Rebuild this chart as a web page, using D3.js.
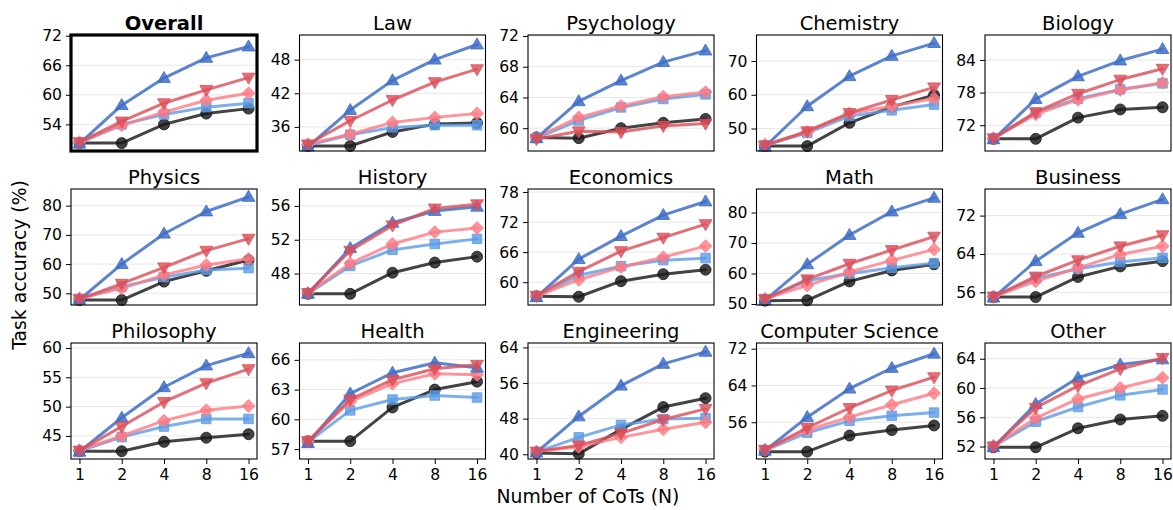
<!DOCTYPE html>
<html>
<head>
<meta charset="utf-8">
<script src="https://cdn.jsdelivr.net/npm/d3@7"></script>
<style>
  html, body { margin: 0; padding: 0; background: #fff; }
  svg { display: block; font-family: "DejaVu Sans", sans-serif; }
</style>
</head>
<body>
<svg id="chart" width="1173" height="510"></svg>
<script>
// Number of sampled chains of thought on the x axis
const nCots = [1, 2, 4, 8, 16];

const subjects = ["Overall", "Law", "Psychology", "Chemistry", "Biology",
  "Physics", "History", "Economics", "Math", "Business",
  "Philosophy", "Health", "Engineering", "Computer Science", "Other"];

// Task accuracy (%) per subject, one row per subject, one value per N
const blueValues = [
  [50.1, 57.9, 63.4, 67.5, 69.8], [32.5, 39.0, 44.3, 48.0, 50.7], [58.7, 63.5, 66.2, 68.6, 70.1],
  [44.6, 56.6, 65.5, 71.5, 75.3], [69.4, 76.8, 81.0, 83.9, 86.0], [47.8, 60.0, 70.4, 78.0, 83.0],
  [45.6, 51.0, 54.0, 55.4, 55.9], [57.0, 64.6, 69.2, 73.4, 76.1], [51.2, 63.0, 72.6, 80.3, 84.8],
  [54.9, 62.5, 68.4, 72.3, 75.4], [42.3, 48.1, 53.3, 57.0, 59.1], [57.6, 62.6, 64.7, 65.7, 65.2],
  [40.4, 48.5, 55.4, 60.3, 63.0], [49.8, 57.1, 63.3, 67.8, 70.9], [51.9, 57.8, 61.4, 63.2, 63.9]
];
const redValues = [
  [50.4, 54.6, 58.3, 61.0, 63.5], [32.9, 37.1, 40.8, 44.0, 46.3], [58.6, 59.6, 59.5, 60.3, 60.6],
  [45.0, 49.2, 54.6, 58.5, 62.2], [69.6, 74.4, 77.8, 80.4, 82.4], [48.0, 53.3, 58.9, 64.6, 68.7],
  [45.7, 50.7, 53.7, 55.7, 56.2], [57.3, 62.1, 66.2, 68.9, 71.6], [51.6, 58.1, 63.2, 67.7, 72.1],
  [55.1, 59.3, 62.7, 65.6, 67.9], [42.5, 46.6, 50.8, 54.0, 56.4], [57.8, 62.0, 64.0, 65.1, 65.5],
  [40.6, 42.0, 44.7, 47.8, 50.2], [50.0, 54.8, 59.1, 62.9, 65.8], [52.0, 57.3, 60.3, 62.6, 64.1]
];
const pinkValues = [
  [50.4, 53.8, 56.5, 58.9, 60.3], [32.9, 34.7, 36.8, 37.7, 38.4], [58.8, 61.4, 62.9, 64.1, 64.7],
  [45.2, 49.0, 54.5, 56.6, 58.9], [69.6, 74.0, 76.7, 78.5, 79.8], [48.3, 51.7, 56.3, 59.7, 61.8],
  [45.7, 49.2, 51.5, 52.9, 53.4], [57.2, 60.5, 63.0, 65.0, 67.2], [51.7, 56.1, 60.5, 64.3, 67.9],
  [55.1, 58.3, 61.1, 63.9, 65.6], [42.6, 45.0, 47.6, 49.4, 50.1], [57.8, 61.8, 63.6, 64.6, 64.5],
  [40.6, 41.7, 43.8, 45.6, 47.2], [50.0, 54.3, 57.1, 59.8, 62.3], [52.1, 55.9, 58.5, 60.0, 61.4]
];
const skyValues = [
  [50.2, 54.0, 56.0, 57.5, 58.3], [32.7, 34.6, 35.9, 36.3, 36.3], [58.7, 61.0, 62.7, 63.8, 64.4],
  [45.0, 48.7, 53.7, 55.4, 57.1], [69.5, 74.3, 76.9, 78.6, 79.7], [48.0, 52.3, 55.5, 58.0, 58.6],
  [45.6, 48.9, 50.8, 51.5, 52.1], [57.1, 61.4, 63.2, 64.4, 64.8], [51.5, 57.7, 59.9, 61.9, 63.4],
  [55.0, 58.9, 60.9, 62.3, 63.2], [42.4, 44.8, 46.6, 47.9, 47.9], [57.7, 60.9, 62.0, 62.4, 62.2],
  [40.5, 43.8, 46.6, 47.9, 48.1], [49.9, 53.7, 56.3, 57.4, 58.1], [52.0, 55.4, 57.4, 59.0, 59.8]
];
const blackValues = [
  [50.2, 50.2, 54.0, 56.2, 57.2], [32.6, 32.6, 35.1, 36.5, 36.7], [58.8, 58.7, 60.0, 60.7, 61.2],
  [44.8, 44.8, 51.7, 56.4, 59.9], [69.5, 69.5, 73.4, 74.9, 75.3], [47.7, 47.7, 54.0, 57.7, 61.4],
  [45.6, 45.6, 48.1, 49.3, 50.0], [57.2, 57.1, 60.2, 61.6, 62.5], [51.1, 51.2, 57.4, 61.0, 63.0],
  [55.0, 55.0, 59.2, 61.4, 62.5], [42.4, 42.4, 44.0, 44.7, 45.3], [57.8, 57.8, 61.2, 63.0, 63.8],
  [40.3, 40.1, 45.6, 50.6, 52.6], [49.6, 49.6, 53.1, 54.3, 55.3], [51.9, 51.9, 54.5, 55.7, 56.2]
];

// y-axis tick labels and limits per subject
const yTicks = [
  [54, 60, 66, 72], [36, 42, 48], [60, 64, 68, 72], [50, 60, 70], [72, 78, 84],
  [50, 60, 70, 80], [48, 52, 56], [60, 66, 72, 78], [50, 60, 70, 80], [56, 64, 72],
  [45, 50, 55, 60], [57, 60, 63, 66], [40, 48, 56, 64], [56, 64, 72], [52, 56, 60, 64]
];
const yLimits = [
  [48.6, 72.14], [31.7, 52.4], [57.03, 72.13], [43.35, 77.7], [67.26, 88.6],
  [46.0, 85.7], [44.28, 58.0], [55.45, 78.6], [49.67, 87.7], [53.35, 77.55],
  [41.07, 60.85], [56.0, 67.7], [38.94, 64.99], [48.0, 73.24], [50.3, 66.15]
];

// Series styling, drawn back to front
const seriesDefs = [
  { values: blackValues, color: "#1a1a1a", opacity: 0.82, marker: "circle" },
  { values: skyValues,   color: "#5b9be6", opacity: 0.8,  marker: "square" },
  { values: pinkValues,  color: "#ff7b83", opacity: 0.8,  marker: "diamond" },
  { values: blueValues,  color: "#3f6fc8", opacity: 0.85, marker: "triUp" },
  { values: redValues,   color: "#dd4f5a", opacity: 0.82, marker: "triDown" }
];

const svg = d3.select("#chart");
const gridLeft = 71, colStep = 228.5, panelW = 186;
const gridTop = 35, rowStep = 154, panelH = 116;
const nCols = 5, nRows = 3;

function markerPath(kind) {
  switch (kind) {
    case "circle":  return d3.symbol(d3.symbolCircle, 95)();
    case "square":  return d3.symbol(d3.symbolSquare, 90)();
    case "diamond": return d3.symbol(d3.symbolSquare, 78)();
    case "triUp":   return "M0,-6.6L6.4,4.4L-6.4,4.4Z";
    case "triDown": return "M0,6.6L6.4,-4.4L-6.4,-4.4Z";
  }
}

subjects.forEach((name, i) => {
  const col = i % nCols, row = Math.floor(i / nCols);
  const x0 = gridLeft + col * colStep, y0 = gridTop + row * rowStep;
  const g = svg.append("g").attr("transform", `translate(${x0},${y0})`);

  const x = d3.scaleLog().base(2).domain([Math.pow(2, -0.2), Math.pow(2, 4.2)]).range([0, panelW]);
  const y = d3.scaleLinear().domain(yLimits[i]).range([panelH, 0]);

  // horizontal grid
  g.append("g").selectAll("line").data(yTicks[i]).join("line")
    .attr("x1", 0).attr("x2", panelW)
    .attr("y1", d => y(d)).attr("y2", d => y(d))
    .attr("stroke", "#e6e6e6").attr("stroke-width", 1);

  // y axis
  const yAxis = g.append("g")
    .call(d3.axisLeft(y).tickValues(yTicks[i]).tickSize(5).tickPadding(4).tickFormat(d3.format("d")));
  yAxis.select(".domain").remove();
  yAxis.selectAll("text").attr("font-size", 15.6).attr("fill", "#000")
    .attr("font-family", "DejaVu Sans, sans-serif");
  yAxis.selectAll("line").attr("stroke", "#000");

  // x axis on bottom row
  if (row === nRows - 1) {
    const xAxis = g.append("g").attr("transform", `translate(0,${panelH})`)
      .call(d3.axisBottom(x).tickValues(nCots).tickSize(5).tickPadding(5).tickFormat(d3.format("d")));
    xAxis.select(".domain").remove();
    xAxis.selectAll("text").attr("font-size", 15.6).attr("fill", "#000")
      .attr("font-family", "DejaVu Sans, sans-serif");
    xAxis.selectAll("line").attr("stroke", "#000");
  }

  // series
  const clipId = `clip${i}`;
  g.append("clipPath").attr("id", clipId).append("rect")
    .attr("x", -6).attr("y", -8).attr("width", panelW + 12).attr("height", panelH + 16);
  const plot = g.append("g");
  const line = d3.line().x((d, k) => x(nCots[k])).y(d => y(d));
  seriesDefs.forEach(s => {
    const vals = s.values[i];
    plot.append("path").attr("d", line(vals))
      .attr("fill", "none").attr("stroke", s.color)
      .attr("stroke-width", 3).attr("stroke-opacity", s.opacity)
      .attr("stroke-linejoin", "round").attr("stroke-linecap", "round");
    plot.selectAll(null).data(vals).join("path")
      .attr("d", markerPath(s.marker))
      .attr("transform", (d, k) => `translate(${x(nCots[k])},${y(d)})` + (s.marker === "diamond" ? " rotate(45)" : ""))
      .attr("fill", s.color).attr("fill-opacity", s.opacity)
      .attr("stroke", s.color).attr("stroke-opacity", s.opacity).attr("stroke-width", 1);
  });

  // frame
  const bold = name === "Overall";
  g.append("rect").attr("x", 0).attr("y", 0).attr("width", panelW).attr("height", panelH)
    .attr("fill", "none").attr("stroke", "#000").attr("stroke-width", bold ? 3.2 : 1.1);

  // title
  g.append("text").attr("x", panelW / 2).attr("y", -5.5)
    .attr("text-anchor", "middle").attr("font-size", 19.5)
    .attr("font-weight", bold ? "bold" : "normal").attr("fill", "#000")
    .text(name);
});

// shared axis labels
svg.append("text").attr("transform", "translate(26,265) rotate(-90)")
  .attr("text-anchor", "middle").attr("font-size", 18.8).attr("fill", "#000")
  .text("Task accuracy (%)");
svg.append("text").attr("x", 588).attr("y", 503)
  .attr("text-anchor", "middle").attr("font-size", 18.8).attr("fill", "#000")
  .text("Number of CoTs (N)");
</script>
</body>
</html>
